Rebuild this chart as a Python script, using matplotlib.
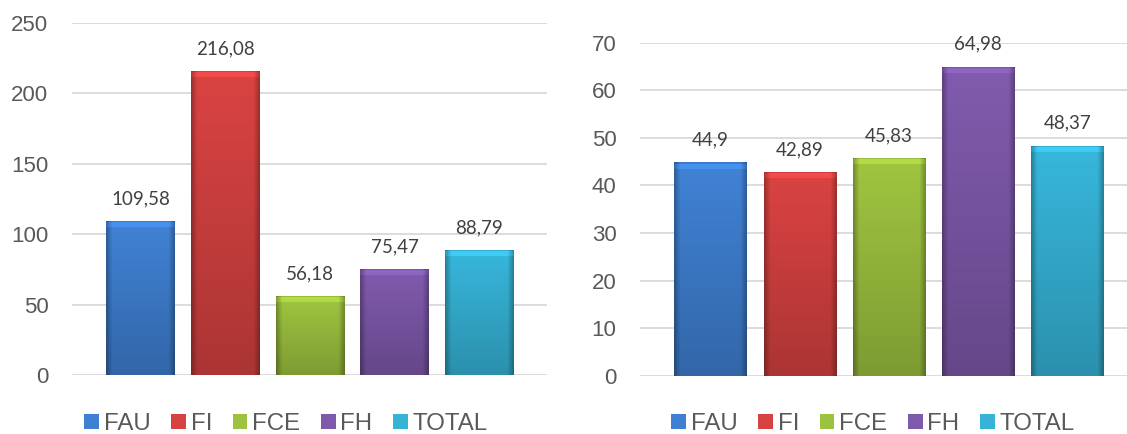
import matplotlib.pyplot as plt
import numpy as np
from matplotlib.patches import Patch
from matplotlib.colors import to_rgb

# données
series = ['FAU', 'FI', 'FCE', 'FH', 'TOTAL']
valeurs_g = [109.58, 216.08, 56.18, 75.47, 88.79]
valeurs_d = [44.9, 42.89, 45.83, 64.98, 48.37]
labels_g = ['109,58', '216,08', '56,18', '75,47', '88,79']
labels_d = ['44,9', '42,89', '45,83', '64,98', '48,37']
couleurs = ['#3F80D2', '#D64241', '#9DC23F', '#7F59AB', '#36B4D8']

fig = plt.figure(figsize=(11.27, 4.34), dpi=100)
ax1 = fig.add_axes([72 / 1127, (434 - 375) / 434, 475 / 1127, 352 / 434])
ax2 = fig.add_axes([640 / 1127, (434 - 375.7) / 434, 487 / 1127, 333 / 434])


def barres_degrade(ax, vals, largeur):
    bars = ax.bar(range(len(vals)), vals, width=largeur, color=couleurs,
                  edgecolor='none', zorder=2)
    fig.canvas.draw()
    for b, c in zip(bars, couleurs):
        x0, y0 = b.get_x(), b.get_y()
        w, h = b.get_width(), b.get_height()
        p0 = ax.transData.transform((x0, y0))
        p1 = ax.transData.transform((x0 + w, y0 + h))
        wpx, hpx = int(p1[0] - p0[0]), int(p1[1] - p0[1])
        yy = np.linspace(1, 0, hpx)[:, None]       # 1 en haut
        xx = np.linspace(0, 1, wpx)[None, :]
        fac = 0.80 + 0.22 * yy
        dist = np.minimum(xx, 1 - xx) * wpx
        bord = np.clip(dist / 6.0, 0, 1)
        fac = fac * (0.72 + 0.28 * bord)
        # biseau du haut
        top = np.arange(hpx)[:, None]
        fac = np.where(top < 7, fac * 1.12, fac)
        fac = np.where(top < 2, fac * 0.85, fac)
        img = np.clip(np.array(to_rgb(c))[None, None, :] * fac[:, :, None], 0, 1)
        im = ax.imshow(img, extent=(x0, x0 + w, y0, y0 + h), aspect='auto',
                       zorder=3, interpolation='bilinear')
        im.set_clip_path(b)
    return bars


def style(ax, ymax, pas, xlim):
    ax.set_xlim(*xlim)
    ax.set_ylim(0, ymax)
    ax.set_yticks(np.arange(0, ymax + 1, pas))
    ax.set_xticks([])
    for s in ax.spines.values():
        s.set_visible(False)
    ax.yaxis.grid(True, color='#D9D9D9', linewidth=1.3, zorder=0)
    ax.set_axisbelow(True)
    ax.tick_params(axis='y', length=0, pad=17, labelsize=16, labelcolor='#595959')
    for t in ax.get_yticklabels():
        t.set_fontfamily('Liberation Sans')


style(ax1, 250, 50, (-0.81, 4.8))
style(ax2, 70, 10, (-0.79, 4.667))

for ax, vals, labs in [(ax1, valeurs_g, labels_g), (ax2, valeurs_d, labels_d)]:
    barres_degrade(ax, vals, 0.81)
    for i, (v, l) in enumerate(zip(vals, labs)):
        ax.annotate(l, (i, v), xytext=(0, 16), textcoords='offset points',
                    ha='center', va='center', fontsize=13.5, color='#404040',
                    family='Lato', annotation_clip=False)

poignees = [Patch(facecolor=c, edgecolor='none') for c in couleurs]
for cx in [286 / 1127, 873 / 1127]:
    fig.legend(poignees, series, loc='center', bbox_to_anchor=(cx, 1 - 424 / 434),
               ncol=5, frameon=False, handlelength=0.62, handleheight=0.62,
               handletextpad=0.2, columnspacing=0.85, borderpad=0,
               prop={'family': 'Liberation Sans', 'size': 17.3},
               labelcolor='#595959')

fig.savefig('out.png', dpi=100)
